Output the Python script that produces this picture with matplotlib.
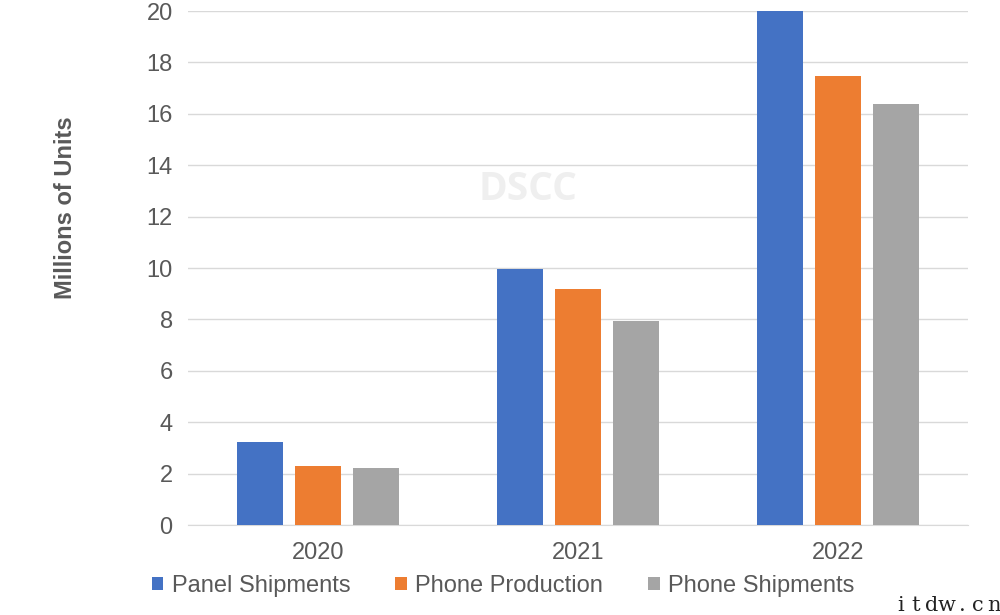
import numpy as np
import matplotlib
matplotlib.use("Agg")
import matplotlib.pyplot as plt

# Data
years = ["2020", "2021", "2022"]
panel_shipments = [3.23, 9.97, 20.0]
phone_production = [2.3, 9.18, 17.47]
phone_shipments = [2.22, 7.95, 16.38]

series_names = ["Panel Shipments", "Phone Production", "Phone Shipments"]
colors = ["#4472C4", "#ED7D31", "#A5A5A5"]
text_color = "#595959"
site_mark = "itdw.cn"

plt.rcParams["font.family"] = ["Liberation Sans", "DejaVu Sans"]

fig = plt.figure(figsize=(10, 6.15), dpi=100)
ax = fig.add_axes([0.188, 0.1463, 0.78, 0.8357])

x = np.arange(len(years))
width = 0.177
step = 0.223
for i, (vals, name, c) in enumerate(zip([panel_shipments, phone_production, phone_shipments],
                                        series_names, colors)):
    ax.bar(x + (i - 1) * step, vals, width, color=c, label=name, zorder=3)

ax.set_xlim(-0.5, 2.5)
ax.set_ylim(0, 20)
ax.set_yticks(range(0, 21, 2))
ax.set_xticks(x)
ax.set_xticklabels(years)
ax.yaxis.grid(True, color="#d9d9d9", linewidth=1.0, zorder=0)
for s in ["top", "right", "left"]:
    ax.spines[s].set_visible(False)
ax.spines["bottom"].set_color("#d9d9d9")
ax.tick_params(length=0, labelsize=17, labelcolor=text_color)
ax.tick_params(axis="y", pad=11)
ax.tick_params(axis="x", pad=12)

fig.text(0.065, 0.662, "Millions of Units", rotation=90, ha="center", va="center",
         fontsize=17, fontweight="bold", color=text_color)

# watermark
ax.text(0.436, 0.652, "DSCC", transform=ax.transAxes, ha="center", va="center",
        fontsize=28, fontweight="bold", color="#efefef", zorder=1,
        family=["Open Sans", "DejaVu Sans"])

leg = fig.legend(loc="center", bbox_to_anchor=(0.503, 0.047), ncol=3, frameon=False,
                 fontsize=17, handlelength=0.5, handleheight=0.5, handletextpad=0.35,
                 columnspacing=1.9)
for t in leg.get_texts():
    t.set_color(text_color)

# site mark in the corner, serif glyphs on a fixed pitch
for k, ch in enumerate(site_mark):
    fig.text(0.9005 + k * 0.0155, 0.0065, ch, fontsize=15, color="#222222",
             family="DejaVu Serif", ha="center", va="baseline")

fig.savefig("out.png", dpi=100)
